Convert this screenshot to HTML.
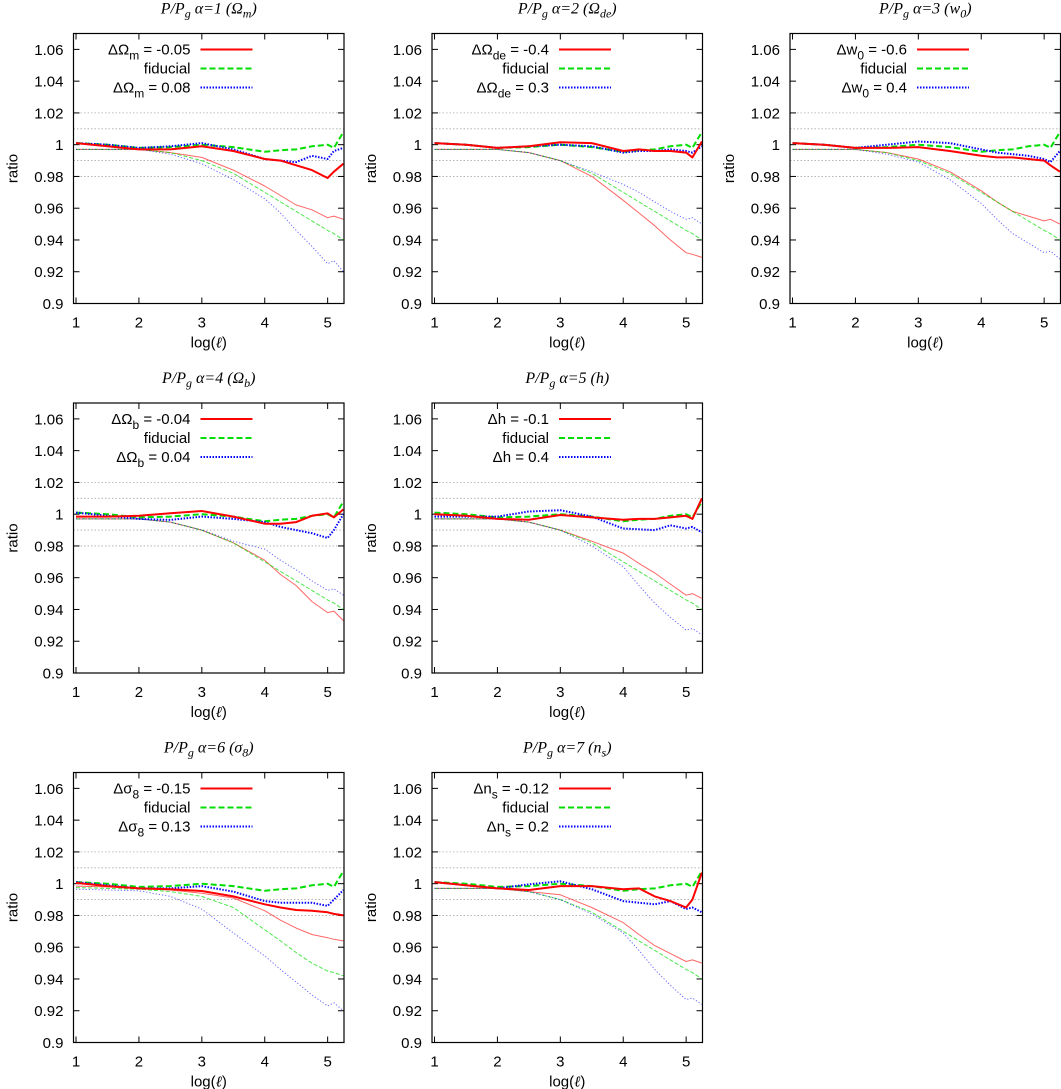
<!DOCTYPE html>
<html><head><meta charset="utf-8"><style>
body{margin:0;background:#fff}
svg{display:block;font-family:"Liberation Sans",sans-serif}
.t{font-family:"Liberation Serif",serif;font-style:italic;font-size:16px}
</style></head><body>
<svg id="c" width="1061" height="1089" xmlns="http://www.w3.org/2000/svg"></svg>
<script>
const xs=[1,1.5,2,2.5,3,3.5,4,4.25,4.5,4.75,5,5.1,5.25];
const yTicks=[0.9,0.92,0.94,0.96,0.98,1,1.02,1.04,1.06];
const yTickLabels=["0.9","0.92","0.94","0.96","0.98","1","1.02","1.04","1.06"];
const xTicks=[1,2,3,4,5];
const gridVals=[1.02,1.01,0.99,0.98];
const fidThick=[1.001,1.0,0.998,0.9985,1.0,0.9985,0.9955,0.9965,0.997,0.999,1.0,0.998,1.008];
const fidThin=[0.997,0.997,0.997,0.995,0.990,0.982,0.970,0.964,0.958,0.952,0.946,0.944,0.940];
const p1R=[1.001,0.999,0.997,0.997,0.999,0.996,0.991,0.990,0.987,0.984,0.979,0.983,0.988];
const p1B=[1.001,1.0,0.998,0.999,1.001,0.997,0.991,0.990,0.989,0.993,0.991,0.996,0.998];
const p1r=[0.997,0.997,0.997,0.995,0.992,0.984,0.974,0.968,0.962,0.959,0.954,0.955,0.953];
const p1b=[0.997,0.997,0.997,0.994,0.988,0.978,0.966,0.957,0.946,0.936,0.925,0.927,0.920];
const p2R=[1.001,1.0,0.998,0.999,1.0015,1.001,0.996,0.997,0.996,0.996,0.995,0.992,1.002];
const p2B=[1.001,1.0,0.998,0.999,1.0,0.999,0.995,0.996,0.996,0.997,0.996,0.995,0.999];
const p2r=[0.997,0.997,0.997,0.995,0.990,0.980,0.965,0.957,0.949,0.940,0.932,0.931,0.929];
const p2b=[0.997,0.997,0.997,0.995,0.990,0.983,0.975,0.970,0.964,0.958,0.953,0.954,0.950];
const p3R=[1.001,1.0,0.998,0.998,0.9985,0.996,0.993,0.992,0.992,0.991,0.990,0.987,0.983];
const p3B=[1.001,1.0,0.998,1.0,1.002,1.001,0.997,0.995,0.994,0.993,0.991,0.989,0.996];
const p3r=[0.997,0.997,0.997,0.995,0.991,0.983,0.971,0.964,0.958,0.955,0.952,0.953,0.950];
const p3b=[0.997,0.997,0.997,0.994,0.989,0.978,0.963,0.953,0.944,0.938,0.932,0.933,0.928];
const p4R=[0.9985,0.9985,0.999,1.0006,1.002,0.9985,0.994,0.994,0.995,0.999,1.0005,0.998,1.003];
const p4B=[1.001,0.999,0.997,0.9964,0.9985,0.997,0.995,0.992,0.990,0.988,0.985,0.990,1.0];
const p4r=[0.997,0.997,0.997,0.995,0.990,0.982,0.971,0.962,0.955,0.945,0.938,0.939,0.933];
const p4b=[0.997,0.997,0.997,0.995,0.990,0.983,0.978,0.971,0.965,0.958,0.952,0.953,0.949];
const p5R=[1.0,0.999,0.997,0.9965,0.9995,0.998,0.9965,0.997,0.997,0.998,0.999,0.997,1.010];
const p5B=[0.9985,0.9985,0.9985,1.0017,1.0025,0.9985,0.991,0.9905,0.990,0.993,0.991,0.992,0.9885];
const p5r=[0.997,0.997,0.997,0.995,0.990,0.983,0.9755,0.969,0.963,0.956,0.949,0.950,0.947];
const p5b=[0.997,0.997,0.997,0.995,0.990,0.980,0.967,0.955,0.944,0.935,0.927,0.928,0.924];
const p6R=[1.0005,0.9985,0.997,0.9965,0.9954,0.992,0.987,0.985,0.9834,0.983,0.982,0.981,0.980];
const p6B=[1.001,0.999,0.997,0.997,0.9985,0.995,0.989,0.988,0.988,0.988,0.986,0.990,0.996];
const p6r=[0.9985,0.998,0.997,0.996,0.994,0.991,0.983,0.977,0.972,0.968,0.966,0.965,0.964];
const p6g=[0.9975,0.997,0.9965,0.995,0.992,0.985,0.971,0.964,0.9566,0.950,0.945,0.944,0.942];
const p6b=[0.9965,0.996,0.9955,0.992,0.984,0.969,0.9545,0.946,0.938,0.930,0.923,0.925,0.920];
const p7R=[1.001,0.999,0.997,0.996,0.9985,0.9985,0.9965,0.997,0.992,0.989,0.985,0.990,1.007];
const p7B=[1.001,0.999,0.997,0.9996,1.0015,0.9965,0.989,0.988,0.987,0.989,0.984,0.985,0.982];
const p7r=[0.997,0.997,0.997,0.995,0.993,0.985,0.9755,0.968,0.961,0.956,0.951,0.952,0.950];
const p7b=[0.997,0.997,0.997,0.995,0.990,0.981,0.969,0.958,0.946,0.936,0.927,0.928,0.924];

const panels=[
 {c:0,r:0,a:"1",p:"Ω",ps:"m",l:["ΔΩ","m"," = -0.05"," = 0.08"],R:p1R,B:p1B,r2:p1r,g:fidThin,b:p1b},
 {c:1,r:0,a:"2",p:"Ω",ps:"de",l:["ΔΩ","de"," = -0.4"," = 0.3"],R:p2R,B:p2B,r2:p2r,g:fidThin,b:p2b},
 {c:2,r:0,a:"3",p:"w",ps:"0",l:["Δw","0"," = -0.6"," = 0.4"],R:p3R,B:p3B,r2:p3r,g:fidThin,b:p3b},
 {c:0,r:1,a:"4",p:"Ω",ps:"b",l:["ΔΩ","b"," = -0.04"," = 0.04"],R:p4R,B:p4B,r2:p4r,g:fidThin,b:p4b},
 {c:1,r:1,a:"5",p:"h",ps:"",l:["Δh",""," = -0.1"," = 0.4"],R:p5R,B:p5B,r2:p5r,g:fidThin,b:p5b},
 {c:0,r:2,a:"6",p:"σ",ps:"8",l:["Δσ","8"," = -0.15"," = 0.13"],R:p6R,B:p6B,r2:p6r,g:p6g,b:p6b},
 {c:1,r:2,a:"7",p:"n",ps:"s",l:["Δn","s"," = -0.12"," = 0.2"],R:p7R,B:p7B,r2:p7r,g:fidThin,b:p7b}
];
const NS="http://www.w3.org/2000/svg";
const svg=document.getElementById('c');
function mk(t,at,parent,txt){const e=document.createElementNS(NS,t);for(const k in at)e.setAttribute(k,at[k]);if(txt!==undefined)e.textContent=txt;(parent||svg).appendChild(e);return e;}
const colX=[73.5,432,790],rowY=[33.5,403,772.5],W=270.5,H=270;
const X0=0.96,X1=5.26,Y0=0.9,Y1=1.07;
panels.forEach((P,i)=>{
 const ox=colX[P.c],oy=rowY[P.r];
 const sx=v=>ox+(v-X0)/(X1-X0)*W, sy=v=>oy+H-(v-Y0)/(Y1-Y0)*H;
 const g=mk('g',{});
 
 
 gridVals.forEach(v=>{const l=mk('line',{x1:ox,x2:ox+W,y1:sy(v),y2:sy(v),stroke:'#aaa','stroke-width':0.8,'stroke-dasharray':'1.5,2'},g);
  });
 yTicks.forEach((v,k)=>{
  mk('line',{x1:ox,x2:ox+6,y1:sy(v),y2:sy(v),stroke:'#000'},g);
  mk('line',{x1:ox+W-6,x2:ox+W,y1:sy(v),y2:sy(v),stroke:'#000'},g);
  const t=mk('text',{x:ox-10,y:sy(v)+5.5,'text-anchor':'end','font-size':15},g,yTickLabels[k]);
  
 });
 xTicks.forEach(v=>{
  mk('line',{x1:sx(v),x2:sx(v),y1:oy+H,y2:oy+H-6,stroke:'#000'},g);
  mk('line',{x1:sx(v),x2:sx(v),y1:oy,y2:oy+6,stroke:'#000'},g);
  const t=mk('text',{x:sx(v),y:oy+H+24,'text-anchor':'middle','font-size':15},g,String(v));
  
 });
 const xt=mk('text',{x:ox+W/2,y:oy+H+44,'text-anchor':'middle','font-size':15},g);
 
 xt.innerHTML='log(<tspan font-family="Liberation Serif" font-style="italic">ℓ</tspan>)';
 const yt=mk('text',{x:0,y:0,'text-anchor':'middle','font-size':15,transform:`translate(${ox-56},${oy+H/2}) rotate(-90)`},g,'ratio');
 
 const tt=mk('text',{x:ox+W/2,y:oy-20,'text-anchor':'middle',class:'t'},g);
 
 const psub=P.ps?`<tspan dy="4" font-size="12">${P.ps}</tspan><tspan dy="-4">)</tspan>`:')';
 tt.innerHTML=`P/P<tspan dy="4" font-size="12">g</tspan><tspan dy="-4"> α=${P.a}  (</tspan>${P.p}${psub}`;
 const path=(arr,col,w,dash,op,name)=>{
  const d=arr.map((v,k)=>(k?'L':'M')+sx(xs[k]).toFixed(1)+','+sy(v).toFixed(1)).join('');
  const e=mk('path',{d:d,fill:'none',stroke:col,'stroke-width':w,'stroke-dasharray':dash,opacity:op,'stroke-linejoin':'round'},g);
  
 };
 path(P.r2,'#ff0000',1,'none',0.6,'thin-red-line');
 path(P.g,'#00dd00',1,'4,2',0.7,'thin-green-line');
 path(P.b,'#0000ff',1,'1.2,2',0.6,'thin-blue-line');
 path(fidThick,'#00dd00',2,'6,3',1,'fiducial-line');
 path(P.B,'#0000ff',2,'1.5,1.5',1,'plus-line');
 path(P.R,'#ff0000',2,'none',1,'minus-line');
 mk('rect',{x:ox,y:oy,width:W,height:H,fill:'none',stroke:'#000','stroke-width':1.2},g);
 const lx=ox+117,ly=[oy+16,oy+35,oy+54];
 const lab=(k,html)=>{const t=mk('text',{x:lx,y:ly[k]+5,'text-anchor':'end','font-size':15},g);t.innerHTML=html;
  };
 const sub=P.l[1]?`<tspan dy="5" font-size="12">${P.l[1]}</tspan><tspan dy="-5">`:'<tspan>';
 lab(0,`${P.l[0]}${sub}${P.l[2]}</tspan>`);
 lab(1,'fiducial');
 lab(2,`${P.l[0]}${sub}${P.l[3]}</tspan>`);
 const ll=(k,col,dash)=>{const e=mk('line',{x1:lx+10,x2:lx+62,y1:ly[k],y2:ly[k],stroke:col,'stroke-width':2,'stroke-dasharray':dash},g);
  };
 ll(0,'#ff0000','none');ll(1,'#00dd00','6,3');ll(2,'#0000ff','1.5,1.5');
});
</script>
</body></html>
